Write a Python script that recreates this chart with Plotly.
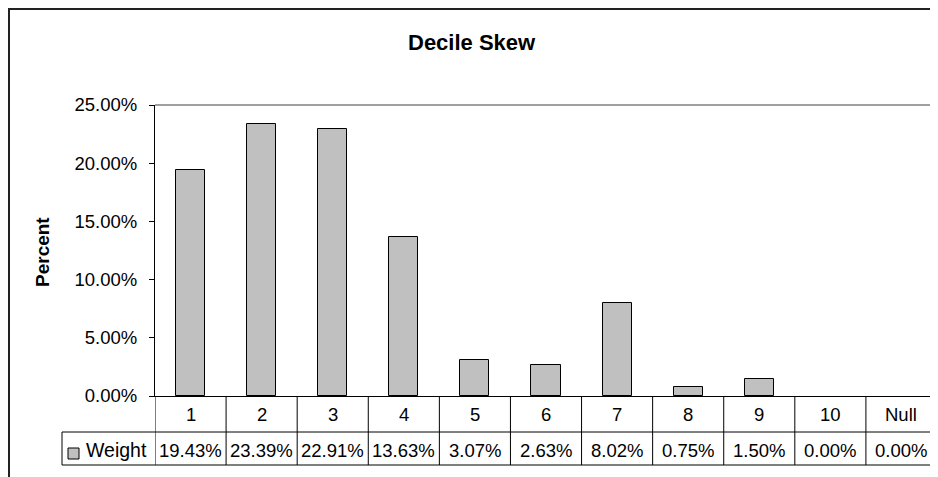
import plotly.graph_objects as go

categories = ["1", "2", "3", "4", "5", "6", "7", "8", "9", "10", "Null"]
weights = [0.1943, 0.2339, 0.2291, 0.1363, 0.0307, 0.0263, 0.0802, 0.0075, 0.0150, 0.0, 0.0]
series_name = "Weight"
title_text = "Decile Skew"
y_title = "Percent"
y_ticks = [0, 0.05, 0.10, 0.15, 0.20, 0.25]

FONT = "Arial, Liberation Sans, sans-serif"
OFF = 8  # page body margin
W, H = 930, 469
L, R, T, B = 147, 1, 97, 81
PH = H - T - B
PW = W - L - R


def py(ypx):
    """screen pixel y -> paper y"""
    return (H - B - (ypx - OFF)) / PH


def px(xpx):
    """screen pixel x -> paper x"""
    return ((xpx - OFF) - L) / PW


fig = go.Figure()
fig.add_trace(go.Bar(
    x=categories, y=weights, name=series_name,
    width=0.41,
    marker=dict(color="#C0C0C0",
                line=dict(color="#000000", width=[1 if v > 0 else 0 for v in weights])),
    showlegend=False,
))

shapes = []
annotations = []

# outer chart border (cut off at right/bottom)
shapes.append(dict(type="rect", xref="paper", yref="paper",
                   x0=px(9), x1=px(980), y0=py(520), y1=py(9),
                   line=dict(color="#222222", width=2), layer="below"))
# plot area top/right border
shapes.append(dict(type="line", xref="paper", yref="paper", x0=0, x1=1, y0=1, y1=1,
                   line=dict(color="#808080", width=1.5)))
shapes.append(dict(type="line", xref="paper", yref="paper", x0=1, x1=1, y0=py(465), y1=1,
                   line=dict(color="#808080", width=1.5)))

# data table lines
n = len(categories)
for i in range(n + 1):
    shapes.append(dict(type="line", xref="x", yref="paper",
                       x0=i - 0.5, x1=i - 0.5, y0=py(465), y1=0,
                       line=dict(color="#000000", width=1)))
for ypix in (432, 465):
    shapes.append(dict(type="line", xref="paper", yref="paper",
                       x0=px(62), x1=1, y0=py(ypix), y1=py(ypix),
                       line=dict(color="#000000", width=1)))
shapes.append(dict(type="line", xref="paper", yref="paper",
                   x0=px(62), x1=px(62), y0=py(465), y1=py(432),
                   line=dict(color="#000000", width=1)))
# legend key
shapes.append(dict(type="rect", xref="paper", yref="paper",
                   x0=px(68), x1=px(79), y0=py(459), y1=py(448),
                   fillcolor="#C0C0C0", line=dict(color="#000000", width=1)))

for i, (c, v) in enumerate(zip(categories, weights)):
    annotations.append(dict(x=i, xref="x", y=py(414.5), yref="paper", text=c,
                            showarrow=False, xanchor="center", yanchor="middle",
                            font=dict(family=FONT, size=18.5, color="#000")))
    annotations.append(dict(x=i, xref="x", y=py(450), yref="paper", text=f"{v:.2%}",
                            showarrow=False, xanchor="center", yanchor="middle",
                            font=dict(family=FONT, size=18.5, color="#000")))

annotations.append(dict(x=px(84), xref="paper", y=py(450), yref="paper", text=series_name,
                        showarrow=False, xanchor="left", yanchor="middle",
                        font=dict(family=FONT, size=19.5, color="#000")))
annotations.append(dict(x=px(472), xref="paper", y=py(42), yref="paper",
                        text=f"<b>{title_text}</b>", showarrow=False,
                        xanchor="center", yanchor="middle",
                        font=dict(family=FONT, size=22, color="#000")))
annotations.append(dict(x=px(42), xref="paper", y=py(252), yref="paper",
                        text=f"<b>{y_title}</b>", showarrow=False, textangle=-90,
                        xanchor="center", yanchor="middle",
                        font=dict(family=FONT, size=19, color="#000")))

fig.update_layout(
    width=W, height=H, autosize=False,
    margin=dict(l=L, r=R, t=T, b=B, pad=0),
    paper_bgcolor="#FFFFFF", plot_bgcolor="#FFFFFF",
    shapes=shapes, annotations=annotations,
    bargap=0,
    xaxis=dict(type="category", range=[-0.5, n - 0.5], showticklabels=False,
               ticks="", showgrid=False, zeroline=False,
               showline=True, linecolor="#000000", linewidth=1),
    yaxis=dict(range=[0, 0.25], tickvals=y_ticks, tickformat=".2%",
               ticks="outside", ticklen=5, tickcolor="#000000", tickwidth=1,
               showgrid=False, zeroline=False,
               showline=True, linecolor="#000000", linewidth=1,
               ticklabelstandoff=8,
               tickfont=dict(family=FONT, size=18.5, color="#000")),
)

fig.write_html("out.html")
